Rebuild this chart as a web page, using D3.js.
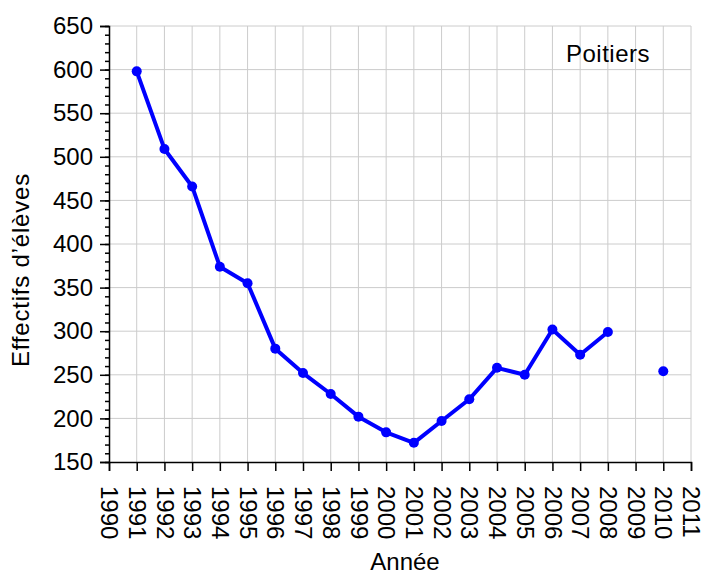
<!DOCTYPE html>
<html>
<head>
<meta charset="utf-8">
<script src="https://cdn.jsdelivr.net/npm/d3@7"></script>
<style>
  body { margin: 0; background: #fff; }
  svg { font-family: "Liberation Sans", Arial, sans-serif; }
  .grid line { stroke: #cccccc; stroke-width: 1; }
</style>
</head>
<body>
<div class="graph"></div>
<script>
// effectifs par année (2009 manquant)
var years  = [1991, 1992, 1993, 1994, 1995, 1996, 1997, 1998, 1999, 2000,
              2001, 2002, 2003, 2004, 2005, 2006, 2007, 2008, 2009, 2010];
var values = [598, 509, 466, 374, 355, 280, 252, 228, 202, 184,
              172, 197, 222, 258, 250, 302, 273, 299, null, 254];
var xTicks = d3.range(1990, 2012);
var yTicks = [150, 200, 250, 300, 350, 400, 450, 500, 550, 600, 650];
var label = "Poitiers";

var margin = {top: 26, right: 13, bottom: 113, left: 109},
    width = 704 - margin.left - margin.right,
    height = 575 - margin.top - margin.bottom;

var x = d3.scaleLinear().domain([1990, 2011]).range([0, width]);
var y = d3.scaleLinear().domain([150, 650]).range([height, 0]);

var data = years.map(function(d, i) { return {year: d, value: values[i]}; });

var svg = d3.select(".graph").append("svg")
    .attr("width", width + margin.left + margin.right)
    .attr("height", height + margin.top + margin.bottom)
  .append("g")
    .attr("transform", "translate(" + margin.left + "," + margin.top + ")");

// grille
svg.append("g").attr("class", "grid")
  .selectAll("line.v")
  .data(xTicks.slice(1))
  .enter().append("line")
    .attr("x1", function(d) { return x(d); })
    .attr("x2", function(d) { return x(d); })
    .attr("y1", 0)
    .attr("y2", height);

svg.append("g").attr("class", "grid")
  .selectAll("line.h")
  .data(yTicks.slice(1))
  .enter().append("line")
    .attr("x1", 0)
    .attr("x2", width)
    .attr("y1", function(d) { return y(d); })
    .attr("y2", function(d) { return y(d); });

// axe y
var yAxis = d3.axisLeft(y).tickValues(yTicks).tickSize(9).tickPadding(7);
var yMinor = d3.axisLeft(y).tickValues(d3.range(150, 651, 10)).tickSize(4).tickFormat("");

svg.append("g").attr("class", "y axis minor").call(yMinor)
  .call(function(g) { g.select(".domain").remove(); });

var yg = svg.append("g").attr("class", "y axis").call(yAxis);
yg.selectAll("text").style("font-size", "24px").attr("fill", "#000");

// axe x
var xAxis = d3.axisBottom(x).tickValues(xTicks).tickSize(9).tickFormat(d3.format("d"));
var xg = svg.append("g")
    .attr("class", "x axis")
    .attr("transform", "translate(0," + height + ")")
    .call(xAxis);
xg.selectAll("text")
    .style("font-size", "24px")
    .attr("fill", "#000")
    .attr("y", 0)
    .attr("dy", "0.35em")
    .attr("text-anchor", "start")
    .attr("transform", "translate(0,24) rotate(90)");

svg.selectAll(".axis path, .axis line")
    .attr("stroke", "#000")
    .attr("stroke-width", 1.5);

// courbe
var line = d3.line()
    .defined(function(d) { return d.value != null; })
    .x(function(d) { return x(d.year); })
    .y(function(d) { return y(d.value); });

svg.append("path")
    .datum(data)
    .attr("fill", "none")
    .attr("stroke", "#0000ff")
    .attr("stroke-width", 4)
    .attr("stroke-linejoin", "round")
    .attr("d", line);

svg.selectAll(".dot")
    .data(data.filter(function(d) { return d.value != null; }))
    .enter().append("circle")
    .attr("class", "dot")
    .attr("r", 5)
    .attr("cx", function(d) { return x(d.year); })
    .attr("cy", function(d) { return y(d.value); })
    .attr("fill", "#0000ff");

// titres
svg.append("text")
    .attr("x", width - 41)
    .attr("y", 36)
    .attr("text-anchor", "end")
    .style("font-size", "24px")
    .style("letter-spacing", "0.5px")
    .text(label);

svg.append("text")
    .attr("x", width / 2 + 5)
    .attr("y", height + 108)
    .attr("text-anchor", "middle")
    .style("font-size", "24px")
    .text("Année");

svg.append("text")
    .attr("transform", "translate(-80,244) rotate(-90)")
    .attr("text-anchor", "middle")
    .style("font-size", "24px")
    .style("letter-spacing", "0.8px")
    .text("Effectifs d\u2019élèves");
</script>
</body>
</html>
